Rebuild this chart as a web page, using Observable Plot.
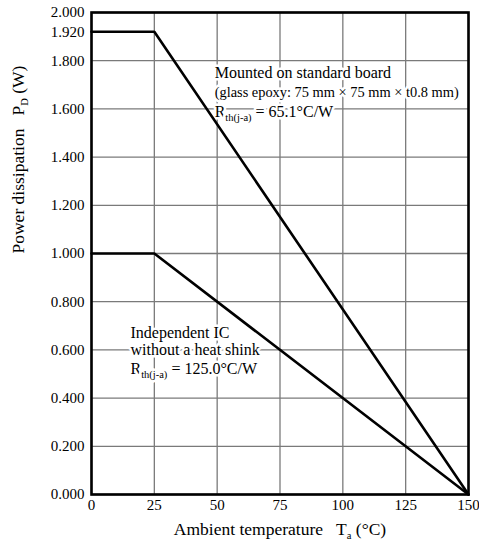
<!DOCTYPE html>
<html>
<head>
<meta charset="utf-8">
<script src="https://cdn.jsdelivr.net/npm/d3@7"></script>
<script src="https://cdn.jsdelivr.net/npm/@observablehq/plot@0.6"></script>
<style>
  html, body { margin: 0; padding: 0; background: white; }
</style>
</head>
<body>
<div id="chart"></div>
<script>
// ---- data ----
const temps = [0, 25, 150];
const boardPower = [1.92, 1.92, 0];
const icPower = [1.0, 1.0, 0];
const xTicks = [0, 25, 50, 75, 100, 125, 150];
const yGrid = [0, 0.2, 0.4, 0.6, 0.8, 1.0, 1.2, 1.4, 1.6, 1.8, 2.0];
const yTickLabels = [0, 0.2, 0.4, 0.6, 0.8, 1.0, 1.2, 1.4, 1.6, 1.8, 1.92, 2.0];
const boardNote = ["Mounted on standard board", "(glass epoxy: 75\u00a0mm\u00a0\u00d7\u00a075\u00a0mm\u00a0\u00d7\u00a0t0.8\u00a0mm)", "R_{th(j-a)} = 65.1°C/W"];
const icNote = ["Independent IC", "without a heat shink", "R_{th(j-a)} = 125.0°C/W"];
const xLabel = "Ambient temperature\u00a0\u00a0\u00a0T_{a} (°C)";
const yLabel = "Power dissipation\u00a0\u00a0\u00a0P_{D} (W)";

const board = temps.map((t, i) => ({t, p: boardPower[i]}));
const ic = temps.map((t, i) => ({t, p: icPower[i]}));

const font = "'Liberation Serif', 'Times New Roman', serif";
const halo = {stroke: "white", strokeWidth: 5, fill: "black", fontFamily: font};

const chart = Plot.plot({
  width: 479,
  height: 548,
  marginLeft: 91,
  marginRight: 11,
  marginTop: 12,
  marginBottom: 54,
  style: {fontFamily: font, fontSize: "15px", background: "white", color: "black"},
  x: {domain: [0, 150]},
  y: {domain: [0, 2]},
  marks: [
    Plot.gridX(xTicks, {stroke: "#7a7a7a", strokeOpacity: 1, strokeWidth: 1.3}),
    Plot.gridY(yGrid, {stroke: "#7a7a7a", strokeOpacity: 1, strokeWidth: 1.3}),
    Plot.axisX(xTicks, {tickSize: 0, tickPadding: 5, fontSize: 15, fontFamily: font, label: null, tickFormat: d => String(d)}),
    Plot.axisY(yTickLabels, {tickSize: 0, tickPadding: 7, fontSize: 15, fontFamily: font, label: null, tickFormat: d3.format(".3f")}),
    Plot.text([boardNote[0]], {x: 49, y: 1.751, text: d => d, textAnchor: "start", fontSize: 16, ...halo}),
    Plot.text([boardNote[1]], {x: 49, y: 1.668, text: d => d, textAnchor: "start", fontSize: 14.4, ...halo}),
    Plot.text([boardNote[2]], {x: 49, y: 1.588, text: d => d, textAnchor: "start", fontSize: 16, className: "subtext", ...halo}),
    Plot.text([icNote[0]], {x: 15.5, y: 0.672, text: d => d, textAnchor: "start", fontSize: 16, ...halo}),
    Plot.text([icNote[1]], {x: 15.5, y: 0.600, text: d => d, textAnchor: "start", fontSize: 16, ...halo}),
    Plot.text([icNote[2]], {x: 15.5, y: 0.523, text: d => d, textAnchor: "start", fontSize: 16, className: "subtext", ...halo}),
    Plot.line(board, {x: "t", y: "p", stroke: "black", strokeWidth: 2.6}),
    Plot.line(ic, {x: "t", y: "p", stroke: "black", strokeWidth: 2.6}),
    Plot.frame({stroke: "black", strokeWidth: 2.6}),
    Plot.text([xLabel], {frameAnchor: "bottom", dy: 40, text: d => d, fontSize: 17.5, fontFamily: font, className: "subtext"}),
    Plot.text([yLabel], {frameAnchor: "left", dx: -73, rotate: -90, text: d => d, fontSize: 17.5, fontFamily: font, className: "subtext"})
  ]
});

// render "_{...}" as subscripts
d3.select(chart).selectAll(".subtext text").each(function() {
  const el = d3.select(this);
  const s = this.textContent;
  const parts = s.split(/_\{([^}]*)\}/);
  if (parts.length < 2) return;
  el.text(null);
  parts.forEach((p, i) => {
    if (p === "") return;
    const ts = el.append("tspan").text(p);
    if (i % 2 === 1) {
      ts.attr("font-size", 10.5).attr("dy", 4);
    } else if (i > 0) {
      ts.attr("dy", -4);
    }
  });
});

document.getElementById("chart").appendChild(chart);
</script>
</body>
</html>
